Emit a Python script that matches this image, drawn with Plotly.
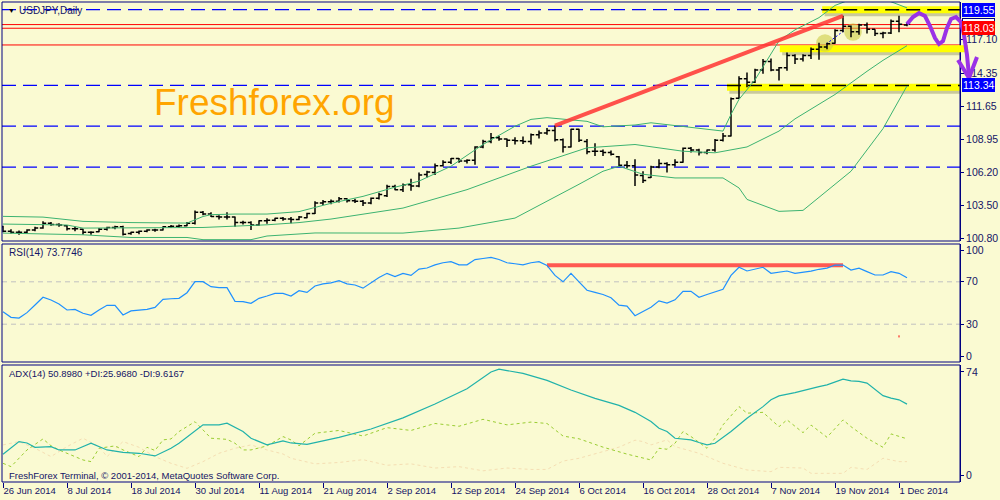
import plotly.graph_objects as go
import pandas as pd

# ---------------- data ----------------
dates = [d.strftime("%d %b %Y").lstrip("0") for d in pd.bdate_range("2014-06-26", periods=114)]
bar_idx = list(range(len(dates)))

opens = [101.75,101.40,101.30,101.30,101.50,101.65,102.05,101.95,101.85,101.60,
         101.55,101.30,101.35,101.55,101.70,101.75,101.20,101.30,101.40,101.50,
         101.50,101.75,101.80,101.85,102.05,102.95,102.80,102.60,102.55,102.55,
         102.10,102.10,101.90,102.25,102.30,102.45,102.40,102.35,102.50,102.85,
         103.70,103.80,103.85,104.05,103.90,103.85,103.70,104.10,104.30,105.05,
         104.80,105.20,105.10,106.05,106.20,106.75,107.05,107.35,107.15,107.20,
         108.30,108.75,109.05,108.95,108.85,108.80,108.75,109.30,109.45,109.65,
         108.90,108.30,109.75,108.75,107.95,107.95,107.85,107.50,106.80,106.75,
         105.95,105.80,106.65,106.95,106.85,107.05,108.20,108.05,107.85,108.05,
         108.85,109.20,112.30,113.90,113.60,114.60,115.30,114.60,114.80,115.80,
         115.50,115.80,116.30,116.50,116.80,117.85,118.20,117.75,118.30,117.95,
         117.60,117.65,118.60,118.30]
highs = [101.85,101.55,101.45,101.55,101.75,102.20,102.15,102.05,101.90,101.75,
         101.60,101.40,101.65,101.75,101.85,101.85,101.35,101.45,101.55,101.60,
         101.80,101.90,101.95,102.15,103.10,103.05,102.95,102.70,102.95,102.60,
         102.25,102.20,102.30,102.45,102.50,102.55,102.55,102.65,102.90,103.85,
         103.95,104.00,104.20,104.10,104.05,103.95,104.15,104.55,105.20,105.20,
         105.30,105.70,106.20,106.35,106.95,107.20,107.40,107.40,107.30,108.35,
         108.90,109.45,109.20,109.00,109.10,109.15,109.40,109.65,109.85,110.05,
         109.00,109.80,109.80,108.95,108.60,108.10,108.00,107.55,107.15,107.30,
         106.30,106.75,107.30,107.05,107.30,108.25,108.30,108.15,108.10,108.95,
         109.45,112.35,114.10,114.40,114.70,115.50,115.55,114.85,116.05,115.90,
         115.90,116.45,116.85,116.85,117.95,119.05,118.25,118.40,118.50,117.95,
         117.75,118.75,119.05,118.45]
lows = [101.30,101.20,101.10,101.20,101.40,101.60,101.85,101.75,101.45,101.40,
        101.10,101.10,101.30,101.45,101.55,101.05,101.10,101.15,101.30,101.35,
        101.45,101.65,101.65,101.80,101.95,102.70,102.55,102.35,102.35,101.75,
        101.95,101.50,101.85,102.00,102.20,102.25,102.05,102.30,102.45,102.80,
        103.55,103.60,103.75,103.75,103.70,103.45,103.60,104.00,104.20,104.75,
        104.60,104.70,105.00,105.80,106.00,106.70,106.90,107.00,106.95,106.85,
        108.20,108.60,108.80,108.30,108.50,108.55,108.50,109.00,109.30,108.75,
        107.85,108.25,108.70,107.70,107.55,107.55,107.60,106.70,106.55,105.10,
        105.35,105.75,106.55,106.20,106.70,107.00,107.85,107.60,107.70,107.90,
        108.75,109.15,112.25,113.20,113.55,114.30,114.50,113.75,114.55,115.10,
        115.30,115.50,115.45,116.30,116.75,117.70,117.30,117.50,117.60,117.40,
        117.20,117.55,117.70,118.20]
closes = [101.40,101.30,101.30,101.50,101.65,102.05,101.95,101.90,101.60,101.60,
          101.30,101.30,101.55,101.70,101.75,101.15,101.30,101.40,101.50,101.50,
          101.75,101.80,101.85,102.05,102.95,102.80,102.60,102.55,102.55,102.10,
          102.10,101.90,102.25,102.30,102.45,102.40,102.35,102.55,102.85,103.70,
          103.80,103.85,104.05,103.90,103.85,103.70,104.10,104.40,105.05,104.80,
          105.20,105.10,106.00,106.25,106.75,107.05,107.35,107.15,107.20,108.30,
          108.75,109.05,108.95,108.85,108.80,108.75,109.30,109.45,109.65,108.90,
          108.30,109.75,108.85,107.90,107.95,107.85,107.70,106.80,106.75,106.00,
          105.55,106.65,106.95,106.85,107.05,108.20,108.05,107.85,108.05,108.85,
          109.20,112.25,113.90,113.60,114.60,115.30,114.60,114.80,115.80,115.50,
          115.80,116.30,116.50,116.75,117.85,118.20,117.75,118.30,117.95,117.60,
          117.65,118.60,118.35,118.35]

bb_up_idx = [0,5,10,16,23,25,26,29,33,37,41,45,49,52,56,58,60,64,66,68,70,73,75,79,81,85,89,90,91,92,94,97,99,102,104,106,108,110,111,112,113]
bb_up = [102.61,102.55,102.20,102.10,102.06,102.60,102.75,102.80,102.80,103.00,103.68,104.25,105.00,105.50,106.72,107.60,108.50,110.00,110.56,110.70,110.56,110.40,109.95,110.10,110.28,110.00,109.66,109.60,110.97,112.20,113.80,117.00,117.90,118.90,119.90,120.40,120.60,120.40,120.20,119.95,119.70]
bb_mid_idx = [0,8,10,23,25,33,37,41,50,58,66,73,79,85,89,93,97,99,104,108,110,113]
bb_mid = [101.98,101.90,101.65,101.65,101.70,101.92,102.10,102.39,103.29,104.80,106.72,108.23,108.50,107.95,107.82,108.30,109.60,110.60,112.60,114.50,115.40,116.60]
bb_low_idx = [0,10,16,23,25,31,33,39,50,57,64,68,72,75,77,80,84,90,92,93,97,100,106,110,113]
bb_low = [101.24,101.10,100.88,100.88,100.70,100.70,101.00,101.25,101.24,101.65,102.47,103.84,105.24,106.31,106.72,106.06,105.76,105.76,104.94,104.00,103.02,103.10,106.31,109.80,113.30]

# RSI(14)
rsi_idx = list(range(0, 114))
rsi = [41.8,36.5,35.8,40.9,48.1,55.4,52.8,49.0,43.4,44.0,
       40.3,38.4,43.4,47.8,47.8,38.7,42.5,43.5,44.0,45.9,
       53.5,54.0,54.4,59.7,70.1,70.1,65.4,64.5,64.5,51.6,
       51.3,49.7,54.4,56.6,59.1,59.1,56.6,61.6,60.0,66.0,
       68.0,69.0,71.0,68.0,67.0,64.0,69.0,74.0,78.0,75.0,
       78.0,76.0,82.0,83.0,86.0,88.0,89.0,86.0,86.0,91.0,
       92.0,93.0,91.0,88.0,87.0,86.0,88.0,89.0,85.5,76.0,
       70.0,78.0,70.0,62.0,60.0,58.0,55.0,48.0,47.0,38.0,
       42.0,46.0,52.0,50.0,53.0,61.0,61.0,55.4,58.0,60.7,
       62.9,76.0,83.7,80.2,82.3,83.7,78.0,78.9,80.2,78.0,
       78.9,80.0,81.8,82.9,85.8,85.8,81.1,82.9,79.6,76.4,
       76.4,79.6,78.0,73.8]

# ADX(14), +DI, -DI
adx_idx = [0,2,3,4,6,7,9,11,13,15,17,19,21,22,25,27,28,30,31,33,35,36,38,42,46,50,54,58,61,62,63,65,68,71,74,77,79,81,82,83,84,86,87,88,89,91,93,95,96,97,99,101,102,103,105,106,107,108,110,111,112,113]
adx = [14.9,24.0,23.0,19.9,20.4,18.0,18.0,22.8,18.0,16.3,15.6,13.7,19.2,22.8,36.0,36.0,37.2,31.2,26.4,21.6,24.5,23.0,22.0,27.0,33.0,41.0,51.0,62.0,74.0,76.0,75.0,73.0,68.0,61.0,55.0,50.0,45.0,38.4,33.6,31.2,26.4,25.2,23.3,21.6,22.8,31.2,40.8,49.1,54.0,56.8,59.2,62.4,63.5,64.7,68.8,67.6,67.2,66.0,57.0,55.2,54.0,50.9]
pdi_idx = [0,1,3,5,6,7,10,11,12,14,15,17,18,19,20,21,22,24,25,26,28,29,30,31,33,35,36,37,39,42,45,48,51,54,57,60,63,66,68,70,72,75,78,80,81,82,83,84,85,86,88,89,90,92,93,95,97,98,100,101,103,105,106,108,110,111,113]
pdi = [8.4,6.0,18.0,25.9,21.0,18.0,10.8,9.6,19.2,20.9,18.0,13.2,19.9,17.6,25.2,25.9,31.2,38.3,32.4,26.4,25.6,22.8,18.0,18.0,20.9,27.6,25.2,21.0,30.0,32.0,28.0,34.0,32.0,37.0,35.0,40.0,36.0,38.0,37.0,28.0,26.0,20.0,15.0,12.0,10.8,19.2,18.5,22.8,31.2,27.6,19.2,26.4,36.0,49.1,44.4,45.0,34.7,39.6,30.4,35.9,27.1,39.6,34.7,26.4,19.9,29.5,26.0]
mdi_idx = [0,2,4,6,8,10,12,13,15,17,19,21,23,25,27,29,31,33,35,36,39,42,45,48,51,54,57,60,63,66,68,70,72,74,77,79,80,81,83,84,87,90,93,96,97,100,101,104,105,106,108,110,112,113]
mdi = [21.6,24.0,19.2,13.2,20.4,26.4,20.4,13.2,24.0,19.9,13.2,8.4,4.8,9.6,15.6,19.2,21.6,18.0,15.1,12.0,8.0,9.0,11.0,7.0,8.0,5.0,6.0,3.0,5.0,4.0,4.0,10.0,12.0,15.0,20.0,25.0,24.0,21.6,25.2,20.4,15.6,8.4,3.6,2.4,5.5,5.0,1.2,1.2,1.2,5.5,4.0,12.0,9.6,9.6]

price_ticks = [100.80, 103.50, 106.20, 108.95, 111.65, 114.35, 117.10]
rsi_ticks = [0, 30, 70, 100]
adx_ticks = [0, 74]
date_tick_idx = list(range(0, 113, 8))

# levels drawn on the chart
blue_levels = [119.55, 113.34, 110.00, 106.65]
red_levels = [118.33, 118.03, 116.66]

# ---------------- styling / geometry ----------------
W, H = 1000, 500
NAVY = "#000080"
TXT = "#141466"
BG = "#FAFAD2"
FONT = "Liberation Sans, Arial, sans-serif"

X_DOM = [0.002, 0.96]
X_RNG = [-0.125, 119.625]
Y1_DOM = [1 - 241 / H, 1 - 2 / H]
Y2_DOM = [1 - 362 / H, 1 - 244 / H]
Y3_DOM = [1 - 482 / H, 1 - 365 / H]
Y1_RNG = [100.591, 120.181]
Y2_RNG = [-5.66, 105.66]
Y3_RNG = [-5.03, 79.0]


def px(x, y):
    return x / W, 1 - y / H


def ypaper(v, dom, rng):
    return dom[0] + (v - rng[0]) / (rng[1] - rng[0]) * (dom[1] - dom[0])


fig = go.Figure()

for bx, by in [(bb_up_idx, bb_up), (bb_mid_idx, bb_mid), (bb_low_idx, bb_low)]:
    fig.add_trace(go.Scatter(x=bx, y=by, mode="lines", line=dict(color="#3CB371", width=1),
                             xaxis="x", yaxis="y", hoverinfo="skip"))

fig.add_trace(go.Ohlc(x=bar_idx, open=opens, high=highs, low=lows, close=closes,
                      increasing=dict(line=dict(color="black", width=1.5)),
                      decreasing=dict(line=dict(color="black", width=1.5)),
                      tickwidth=0.4, xaxis="x", yaxis="y", hoverinfo="skip"))

fig.add_trace(go.Scatter(x=rsi_idx, y=rsi, mode="lines", line=dict(color="#1E90FF", width=1.2), xaxis="x", yaxis="y2", hoverinfo="skip"))

fig.add_trace(go.Scatter(x=mdi_idx, y=mdi, mode="lines", line=dict(color="#F5DEB3", width=1, dash="3px,3px"), xaxis="x", yaxis="y3", hoverinfo="skip"))
fig.add_trace(go.Scatter(x=pdi_idx, y=pdi, mode="lines", line=dict(color="#9ACD32", width=1, dash="3px,3px"), xaxis="x", yaxis="y3", hoverinfo="skip"))
fig.add_trace(go.Scatter(x=adx_idx, y=adx, mode="lines", line=dict(color="#20B2AA", width=1.2), xaxis="x", yaxis="y3", hoverinfo="skip"))

shapes = []
for top, bot in [(2, 241), (244, 362), (365, 482)]:
    x0, y0 = px(2, bot)
    x1, y1 = px(960, top)
    shapes.append(dict(type="rect", xref="paper", yref="paper", x0=x0, x1=x1, y0=y0, y1=y1,
                       line=dict(color=NAVY, width=1), layer="above"))

for lv in blue_levels:
    shapes.append(dict(type="line", xref="x", yref="y", x0=X_RNG[0], x1=X_RNG[1], y0=lv, y1=lv,
                       line=dict(color="#0000FF", width=1.3, dash="14px,7px"), layer="below"))
for lv in red_levels:
    shapes.append(dict(type="line", xref="x", yref="y", x0=X_RNG[0], x1=X_RNG[1], y0=lv, y1=lv,
                       line=dict(color="#FF0000", width=1), layer="below"))

zones = [(102.4, 119.625, 119.55), (97.1, 119.625, 116.35), (90.5, 119.625, 113.2)]
for x0, x1, lv in zones:
    shapes.append(dict(type="line", xref="x", yref="y", x0=x0 + 0.3, x1=x1, y0=lv - 0.25, y1=lv - 0.25,
                       line=dict(color="rgba(110,110,60,0.35)", width=7), layer="below"))
    shapes.append(dict(type="line", xref="x", yref="y", x0=x0, x1=x1, y0=lv, y1=lv,
                       line=dict(color="#FFFF00", width=7), layer="below"))
ym = ypaper(116.35, Y1_DOM, Y1_RNG)
shapes.append(dict(type="line", xref="paper", yref="paper", x0=0.958, x1=0.968, y0=ym, y1=ym,
                   line=dict(color="#FFFF00", width=7), layer="above"))
for x0, lv in [(102.4, 119.55), (90.5, 113.34)]:
    shapes.append(dict(type="line", xref="x", yref="y", x0=x0, x1=X_RNG[1], y0=lv, y1=lv,
                       line=dict(color="black", width=1.6, dash="14px,7px"), layer="below"))

for ci, cp in [(102.75, 116.82), (106.25, 117.72)]:
    shapes.append(dict(type="circle", xref="x", yref="y", x0=ci - 1.1, x1=ci + 1.1, y0=cp - 0.72, y1=cp + 0.72,
                       fillcolor="rgba(205,205,70,0.6)", line=dict(width=0), layer="below"))
shapes.append(dict(type="line", xref="x", yref="y", x0=102.9, x1=105.25, y0=116.74, y1=117.89,
                   line=dict(color="#0000FF", width=1, dash="2px,2px"), layer="below"))

shapes.append(dict(type="line", xref="x", yref="y", x0=69, x1=105, y0=110.05, y1=119.05,
                   line=dict(color="rgba(255,50,50,0.85)", width=4), layer="above"))

for lv in [70, 30]:
    shapes.append(dict(type="line", xref="x", yref="y2", x0=X_RNG[0], x1=X_RNG[1], y0=lv, y1=lv,
                       line=dict(color="#C0C0C0", width=1, dash="5px,4px"), layer="below"))
shapes.append(dict(type="line", xref="x", yref="y2", x0=68, x1=105, y0=85.5, y1=85.5,
                   line=dict(color="rgba(255,60,60,0.85)", width=4), layer="below"))
shapes.append(dict(type="line", xref="x", yref="y2", x0=112, x1=112, y0=17.5, y1=19.5,
                   line=dict(color="#FF0000", width=1), layer="above"))

sq = [(907, 24), (913, 17), (919, 13), (925, 16), (930, 26), (935, 38), (939, 44), (943, 41),
      (947, 28), (951, 19), (956, 17), (961, 22), (964, 35), (967, 55), (969, 76)]
path = "M " + " L ".join("%.4f,%.4f" % px(a, b) for a, b in sq)
shapes.append(dict(type="path", xref="paper", yref="paper", path=path,
                   line=dict(color="#9A32E6", width=4), layer="above"))
head = [(958, 60), (969, 78), (977, 57)]
path2 = "M " + " L ".join("%.4f,%.4f" % px(a, b) for a, b in head)
shapes.append(dict(type="path", xref="paper", yref="paper", path=path2,
                   line=dict(color="#9A32E6", width=4), layer="above"))

annotations = []


def note(text, x, y, size=11, color=TXT, anchor="left", **kw):
    xp_, yp_ = px(x, y)
    annotations.append(dict(text=text, x=xp_, y=yp_, xref="paper", yref="paper", xanchor=anchor,
                            yanchor="middle", showarrow=False, font=dict(family=FONT, size=size, color=color), **kw))


note("▼", 6, 10, size=7, color="black")
note("USDJPY,Daily", 17, 10, size=10)
note("Freshforex.org", 274, 103, size=37, color="#FFA500", anchor="center")
note("RSI(14) 73.7746", 7, 252, size=10)
note("ADX(14) 50.8980 +DI:25.9680 -DI:9.6167", 7, 373, size=9.5)
note("FreshForex Terminal, © 2001-2014, MetaQuotes Software Corp.", 7, 475, size=9.5)

for val, bg, fg, border in [(118.33, "white", NAVY, NAVY), (118.03, "#FF0000", "white", "#FF0000"),
                            (119.55, "#0000FF", "white", "#0000FF"), (113.34, "#0000FF", "white", "#0000FF")]:
    annotations.append(dict(text="%.2f" % val, x=0.962, y=ypaper(val, Y1_DOM, Y1_RNG), xref="paper", yref="paper",
                            xanchor="left", yanchor="middle", showarrow=False, bgcolor=bg, bordercolor=border,
                            borderwidth=1, borderpad=0, font=dict(family=FONT, size=10.5, color=fg)))

axis_common = dict(showgrid=False, zeroline=False, showline=True, linecolor=NAVY, linewidth=1,
                   ticks="outside", ticklen=3, tickcolor=NAVY, tickfont=dict(family=FONT, size=10.5, color=TXT),
                   fixedrange=True, automargin=False)

fig.update_layout(
    width=W, height=H, margin=dict(l=0, r=0, t=0, b=0, autoexpand=False),
    paper_bgcolor=BG, plot_bgcolor="rgba(0,0,0,0)", showlegend=False,
    xaxis=dict(domain=X_DOM, range=X_RNG, anchor="y3", showgrid=False, zeroline=False, showline=False,
               ticks="outside", ticklen=5, tickcolor=NAVY, tickvals=date_tick_idx,
               ticktext=[dates[i] for i in date_tick_idx], ticklabelposition="outside right",
               ticklabeloverflow="allow", tickangle=0,
               tickfont=dict(family=FONT, size=9.5, color=TXT), rangeslider=dict(visible=False),
               fixedrange=True, automargin=False),
    yaxis=dict(domain=Y1_DOM, range=Y1_RNG, anchor="x", side="right", tickvals=price_ticks,
               ticktext=["%.2f" % v for v in price_ticks], **axis_common),
    yaxis2=dict(domain=Y2_DOM, range=Y2_RNG, anchor="x", side="right", tickvals=rsi_ticks, **axis_common),
    yaxis3=dict(domain=Y3_DOM, range=Y3_RNG, anchor="x", side="right", tickvals=adx_ticks, **axis_common),
    shapes=shapes, annotations=annotations,
)

fig.write_html("out.html", config={"displayModeBar": False},
               post_script="document.body.style.margin='0px';document.body.style.overflow='hidden';")
